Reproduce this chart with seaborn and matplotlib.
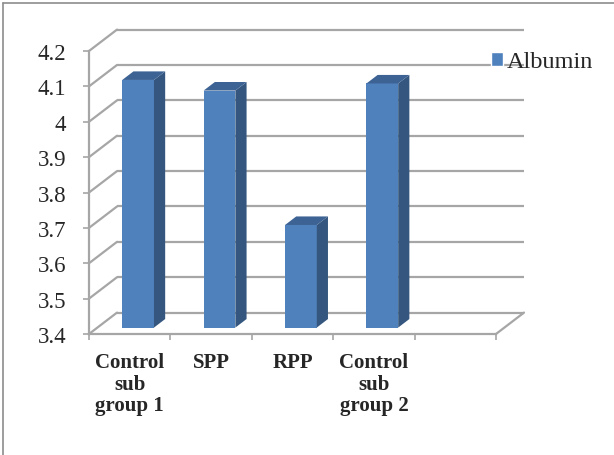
import numpy as np
import pandas as pd
import seaborn as sns
import matplotlib.pyplot as plt
from matplotlib.patches import Polygon, Patch
from matplotlib.lines import Line2D

groups = ["Control\nsub\ngroup 1", "SPP", "RPP", "Control\nsub\ngroup 2"]
albumin = [4.10, 4.07, 3.69, 4.09]
yticks = [3.4, 3.5, 3.6, 3.7, 3.8, 3.9, 4.0, 4.1, 4.2]
ytick_labels = ["3.4", "3.5", "3.6", "3.7", "3.8", "3.9", "4", "4.1", "4.2"]
n_slots = 5

# oblique "3d" offsets in data units (full depth of the box)
DX, DY = 0.344, 0.0605
F, D = 0.30, 0.40          # bar front-face depth, bar thickness
front_c, side_c, top_c = "#4f81bd", "#35577f", "#3d6395"
grid_c = "#a6a6a6"
y0, y1 = yticks[0], yticks[-1]

sns.set_style("white")
plt.rcParams["font.family"] = ["Liberation Serif", "DejaVu Serif"]

fig = plt.figure(figsize=(6.14, 4.56), dpi=100)
ax = fig.add_axes([89 / 614, 1 - 335 / 456, (524 - 89) / 614, (335 - 30.6) / 456])

df = pd.DataFrame({"group": groups, "Albumin": albumin})
sns.barplot(data=df, x="group", y="Albumin", color=front_c, width=0.39,
            saturation=1, ax=ax, zorder=3)

# back wall + left wall grid
for v in yticks:
    ax.plot([-0.5 + DX, n_slots - 0.5 + DX], [v + DY, v + DY], color=grid_c,
            lw=1.6, zorder=1, clip_on=False, solid_capstyle="butt")
    ax.plot([-0.5, -0.5 + DX], [v, v + DY], color=grid_c, lw=1.6, zorder=1,
            clip_on=False)
ax.plot([n_slots - 0.5, n_slots - 0.5 + DX], [y0, y0 + DY], color=grid_c,
        lw=1.6, zorder=1, clip_on=False)

# turn flat bars into boxes
for p, v in zip(ax.patches, albumin):
    w = p.get_width()
    x0 = p.get_x() + F * DX
    base = y0 + F * DY
    top = v + F * DY
    p.set_x(x0)
    p.set_y(base)
    p.set_height(top - base)
    p.set_edgecolor("none")
    xr = x0 + w
    ax.add_patch(Polygon([(xr, base), (xr, top), (xr + D * DX, top + D * DY),
                          (xr + D * DX, base + D * DY)], closed=True,
                         facecolor=side_c, edgecolor="none", zorder=3))
    ax.add_patch(Polygon([(x0, top), (xr, top), (xr + D * DX, top + D * DY),
                          (x0 + D * DX, top + D * DY)], closed=True,
                         facecolor=top_c, edgecolor="none", zorder=3))

ax.set_xlim(-0.5, n_slots - 0.5 + DX)
ax.set_ylim(y0, y1 + DY)

for s in ["top", "right"]:
    ax.spines[s].set_visible(False)
ax.spines["left"].set_bounds(y0, y1)
ax.spines["bottom"].set_bounds(-0.5, n_slots - 0.5)
for s in ["left", "bottom"]:
    ax.spines[s].set_color(grid_c)
    ax.spines[s].set_linewidth(1.6)
    ax.spines[s].set_zorder(2)

ax.set_yticks(yticks)
ax.set_yticklabels(ytick_labels)
ax.tick_params(axis="y", direction="out", length=4.3, width=1.2, color=grid_c,
               pad=12, labelsize=16.5, left=True)
ax.set_xticks(range(len(groups)))
ax.set_xticklabels(groups, fontweight="bold", fontsize=15, linespacing=1.1)
ax.set_xticks(np.arange(-0.5, n_slots, 1.0), minor=True)
ax.tick_params(axis="x", which="major", length=0, pad=13)
ax.tick_params(axis="x", which="minor", direction="out", length=4.3, width=1.2,
               color=grid_c, bottom=True)
ax.set_xlabel("")
ax.set_ylabel("")
ax.patch.set_alpha(0)

ax.legend(handles=[Patch(facecolor=front_c, label="Albumin")],
          loc="center left", bbox_to_anchor=(491 / 614, 1 - 63 / 456),
          bbox_transform=fig.transFigure, frameon=False, fontsize=17.5,
          handlelength=0.5, handleheight=0.5, handletextpad=0.15,
          borderpad=0, borderaxespad=0)

# outer frame (only left and top edges show)
fig.add_artist(Line2D([3 / 614, 3 / 614], [0, 1 - 4 / 456], color="#8c8c8c", lw=1.2))
fig.add_artist(Line2D([3 / 614, 1], [1 - 4 / 456, 1 - 4 / 456], color="#8c8c8c", lw=1.2))

fig.savefig("out.png", dpi=100)
